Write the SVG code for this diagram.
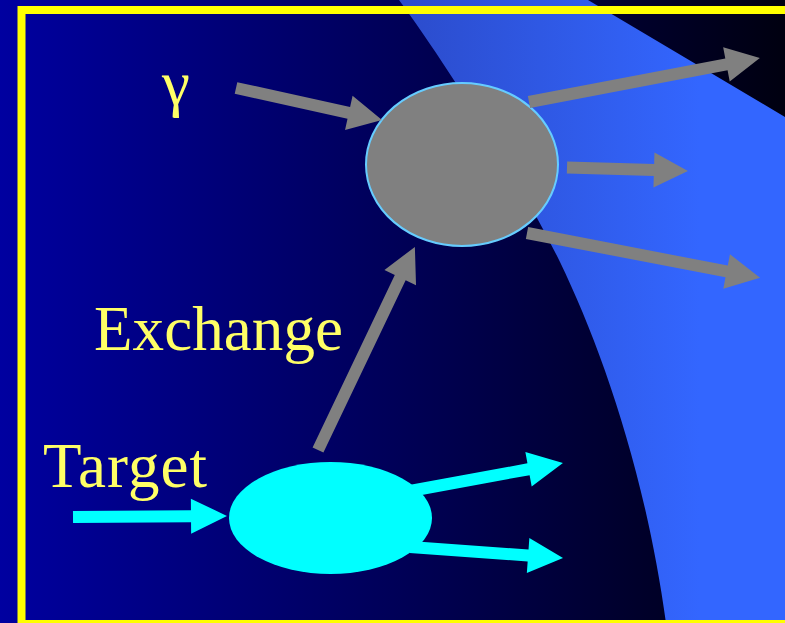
<svg xmlns="http://www.w3.org/2000/svg" width="785" height="623" viewBox="0 0 785 623">
  <defs>
    <linearGradient id="bg" gradientUnits="userSpaceOnUse" x1="0" y1="0" x2="785" y2="0">
      <stop offset="0" stop-color="#0000a0"/>
      <stop offset="1" stop-color="#000010"/>
    </linearGradient>
    <linearGradient id="band" gradientUnits="userSpaceOnUse" x1="380" y1="0" x2="700" y2="0">
      <stop offset="0" stop-color="#2b4ac8"/>
      <stop offset="1" stop-color="#3366ff"/>
    </linearGradient>
    <style>
      .lbl { font-family: "Liberation Serif", "Times New Roman", serif; font-size: 63px; fill: #ffff66; }
      .gray { fill: #808080; }
      .cyan { fill: #00ffff; }
    </style>
  </defs>
  <rect x="0" y="0" width="785" height="623" fill="url(#bg)"/>
  <path d="M399,0 C440,55 520,180 560,262 C600,345 645,470 666,623 L785,623 L785,117 L588,0 Z" fill="url(#band)"/>
  <rect x="21.5" y="10" width="800" height="614" fill="none" stroke="#ffff00" stroke-width="8"/>

  <g id="vertex-top">
    <ellipse cx="462" cy="164.5" rx="96" ry="81.5" fill="#808080" stroke="#66ccff" stroke-width="2"/>
  </g>
  <g id="vertex-target">
    <ellipse cx="330.5" cy="518" rx="101.5" ry="56" fill="#00ffff"/>
  </g>

  <g id="connectors">
    <polygon class="gray" points="0,-6 115.5,-6 115.5,-17.5 149.5,0 115.5,17.5 115.5,6 0,6" transform="translate(236,88) rotate(12.4)"/>
    <polygon class="gray" points="0,-6 201,-6 201,-17.5 235,0 201,17.5 201,6 0,6" transform="translate(529,102) rotate(-10.8)"/>
    <polygon class="gray" points="0,-6 87,-6 87,-17.5 121,0 87,17.5 87,6 0,6" transform="translate(567,167.5) rotate(1.66)"/>
    <polygon class="gray" points="0,-6 203.3,-6 203.3,-17.5 237.3,0 203.3,17.5 203.3,6 0,6" transform="translate(527,233) rotate(10.9)"/>
    <polygon class="gray" points="0,-6 191,-6 191,-17.5 225,0 191,17.5 191,6 0,6" transform="translate(318,450) rotate(-64.5)"/>
    <polygon class="cyan" points="0,-6 118,-6 118,-17.5 154,0 118,17.5 118,6 0,6" transform="translate(73,517) rotate(-0.4)"/>
    <polygon class="cyan" points="0,-6 120.5,-6 120.5,-17.5 155.5,0 120.5,17.5 120.5,6 0,6" transform="translate(410,491) rotate(-10.4)"/>
    <polygon class="cyan" points="0,-6 118.4,-6 118.4,-17.5 153.4,0 118.4,17.5 118.4,6 0,6" transform="translate(410,547) rotate(4.1)"/>
  </g>

  <g id="labels">
    <text class="lbl" x="162" y="104">γ</text>
    <text class="lbl" x="94" y="350" textLength="249" lengthAdjust="spacing">Exchange</text>
    <text class="lbl" x="43" y="487" textLength="164" lengthAdjust="spacing">Target</text>
  </g>
</svg>
